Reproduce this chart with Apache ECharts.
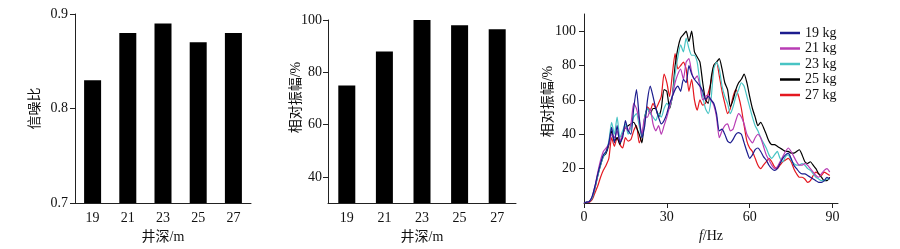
<!DOCTYPE html>
<html><head><meta charset="utf-8">
<script src="https://cdn.jsdelivr.net/npm/echarts@6/dist/echarts.min.js"></script>
<style>html,body{margin:0;padding:0;background:#fff}#c{width:900px;height:249px}</style>
</head><body><div id="c"></div>
<script>
const depthCats = ['19','21','23','25','27'];
const snrValues = [0.83, 0.88, 0.89, 0.87, 0.88];
const ampValues = [75, 88, 100, 98, 96.5];
const snrTicks = [0.7, 0.8, 0.9];
const ampTicks = [40, 60, 80, 100];
const freqTicks = [0, 30, 60, 90];
const specTicks = [20, 40, 60, 80, 100];
const freqs = [];
for (let i = 0; i <= 89; i++) freqs.push(i);
const names = ['19 kg','21 kg','23 kg','25 kg','27 kg'];
const colors = ['#1c1c8e','#b83cb4','#48c4c4','#000000','#e41820'];
const s19 = [0,0.5,1,4,10,17,23,28,30,35,44,35,45,35,38,48,42,40,55,66,50,38,45,60,68,62,55,50,46,48,52,58,62,66,68,65,72,70,80,75,72,70,68,65,60,62,60,58,52,42,43,40,36,35,37,40,41,40,35,30,26,28,31,32,30,27,25,22,20,19,20,23,26,28,29,26,22,20,18,17,17,16,15,14,13,12,12,13,15,14];
const s21 = [0,0.5,1,4,10,18,25,30,32,34,40,38,42,36,40,44,42,46,58,55,48,40,50,50,55,46,42,45,40,45,50,56,62,70,75,78,72,82,84,76,72,74,68,60,62,63,60,57,50,38,42,45,46,42,43,48,52,50,46,40,37,35,38,40,38,33,28,25,22,20,21,24,27,30,32,30,27,24,22,22,23,22,20,18,16,15,17,19,20,18];
const s23 = [0,0.5,1,3,9,16,22,27,30,36,47,40,50,38,42,46,40,44,50,52,45,38,50,55,52,50,48,52,50,55,58,56,62,75,85,92,88,96,90,86,86,82,70,62,55,52,60,78,82,78,68,62,58,52,56,62,66,70,68,62,56,50,45,42,38,35,32,28,26,28,30,26,24,27,28,25,23,22,22,23,22,20,19,17,15,14,13,13,14,14];
const s25 = [0,0.5,1,3,9,16,22,27,29,34,42,36,38,34,40,44,45,46,47,44,40,35,50,55,52,55,55,50,55,66,65,55,62,80,90,96,98,100,94,100,88,85,82,70,60,58,72,80,82,84,78,70,66,56,60,66,70,72,75,70,62,55,50,45,47,44,40,36,34,34,33,32,31,30,30,29,29,30,31,28,24,23,24,22,20,17,15,13,13,15];
const s27 = [0,0.3,0.5,2,6,10,15,19,22,26,38,33,38,34,32,38,36,37,42,45,35,40,48,56,54,58,55,58,62,75,70,62,75,87,78,80,82,78,65,72,60,54,60,57,58,64,70,80,82,74,65,58,52,55,62,66,62,55,45,36,32,30,26,22,20,22,24,26,24,21,20,22,24,25,26,24,20,17,15,15,14,12,13,16,18,17,16,18,17,16];
const seriesData = [s19, s21, s23, s25, s27];

const FONT = '"Liberation Serif","Noto Sans CJK SC",serif';
const txt = {color:'#111', fontFamily: FONT, fontSize: 14};
const axLine = {show:true, lineStyle:{color:'#222', width:1}};

function lineSeries(i){
  return {type:'line', name:names[i], xAxisIndex:2, yAxisIndex:2, showSymbol:false, symbol:'none',
    data: freqs.map((f,k)=>[f, seriesData[i][k]]), lineStyle:{width:1.2, color:colors[i]}, itemStyle:{color:colors[i]}, smooth:0.2};
}

const chart = echarts.init(document.getElementById('c'));
chart.setOption({
  animation:false,
  backgroundColor:'#fff',
  textStyle: txt,
  grid:[
    {left:75, top:14, width:176, height:190},
    {left:328, top:20, width:188, height:185},
    {left:584, top:14, width:254, height:189}
  ],
  xAxis:[
    {type:'category', gridIndex:0, data:depthCats, axisLine:axLine, axisTick:{show:false},
     axisLabel:{...txt, margin:8}, name:'井深/m', nameLocation:'middle', nameGap:25, nameTextStyle:txt},
    {type:'category', gridIndex:1, data:depthCats, axisLine:axLine, axisTick:{show:false},
     axisLabel:{...txt, margin:8}, name:'井深/m', nameLocation:'middle', nameGap:25, nameTextStyle:txt},
    {type:'value', gridIndex:2, min:0, max:92, axisLine:axLine, splitLine:{show:false},
     axisTick:{show:true, length:5, customValues:freqTicks, lineStyle:{color:'#222'}},
     axisLabel:{...txt, margin:7, customValues:freqTicks},
     name:'{i|f}/Hz', nameLocation:'middle', nameGap:24,
     nameTextStyle:{...txt, rich:{i:{fontStyle:'italic', fontFamily:FONT, fontSize:14, color:'#111'}}}}
  ],
  yAxis:[
    {type:'value', gridIndex:0, min:0.7, max:0.9, axisLine:axLine, splitLine:{show:false},
     axisTick:{show:true, length:5, customValues:snrTicks, lineStyle:{color:'#222'}},
     axisLabel:{...txt, margin:7, customValues:snrTicks, formatter:v=>v.toFixed(1)},
     name:'信噪比', nameLocation:'middle', nameGap:33, nameMoveOverlap:false, nameTextStyle:txt},
    {type:'value', gridIndex:1, min:30, max:100, axisLine:axLine, splitLine:{show:false},
     axisTick:{show:true, length:5, customValues:ampTicks, lineStyle:{color:'#222'}},
     axisLabel:{...txt, margin:6, customValues:ampTicks},
     name:'相对振幅/%', nameLocation:'middle', nameGap:25, nameMoveOverlap:false, nameTextStyle:{...txt, padding:[0,0,0,28]}},
    {type:'value', gridIndex:2, min:0, max:110, axisLine:axLine, splitLine:{show:false},
     axisTick:{show:true, length:5, customValues:specTicks, lineStyle:{color:'#222'}},
     axisLabel:{...txt, margin:8, customValues:specTicks},
     name:'相对振幅/%', nameLocation:'middle', nameGap:29, nameMoveOverlap:false, nameTextStyle:{...txt, padding:[0,0,0,14]}}
  ],
  legend:{left:775, top:21, orient:'vertical', icon:'rect', itemWidth:20, itemHeight:2.5, itemGap:1.5,
    data:names, textStyle:{...txt, lineHeight:14}},
  series:[
    {type:'bar', xAxisIndex:0, yAxisIndex:0, data:snrValues, barWidth:17, itemStyle:{color:'#000'}},
    {type:'bar', xAxisIndex:1, yAxisIndex:1, data:ampValues, barWidth:17, itemStyle:{color:'#000'}},
    lineSeries(4), lineSeries(3), lineSeries(2), lineSeries(1), lineSeries(0)
  ]
});
</script></body></html>
